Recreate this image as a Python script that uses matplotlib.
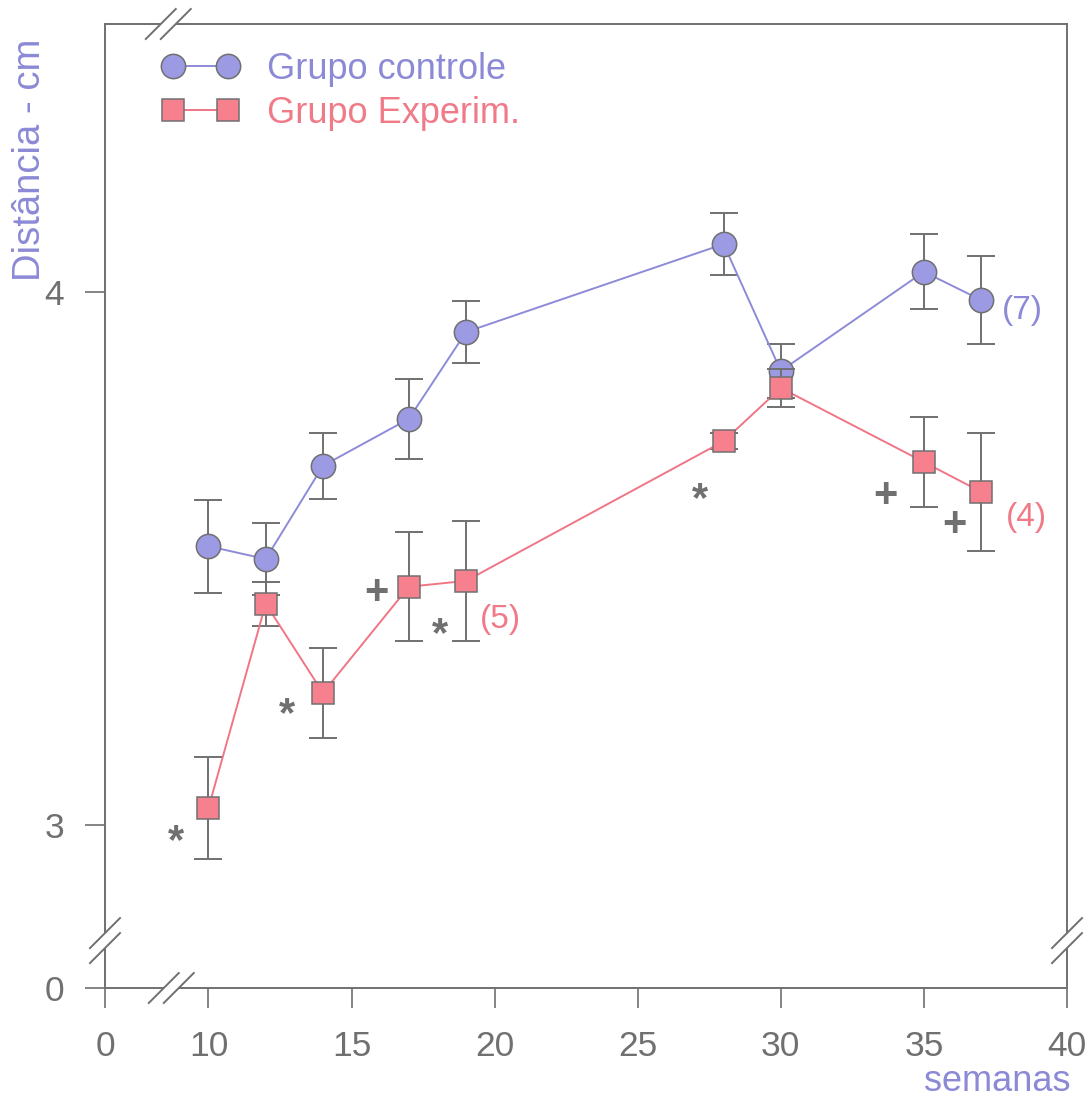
import matplotlib
matplotlib.use("Agg")
import matplotlib.pyplot as plt
from matplotlib.lines import Line2D
from matplotlib.patches import Polygon
from matplotlib.transforms import IdentityTransform

# ---- data -------------------------------------------------------------
weeks = [10, 12, 14, 17, 19, 28, 30, 35, 37]
controle = [3.523, 3.499, 3.674, 3.762, 3.925, 4.090, 3.852, 4.038, 3.985]
controle_err = [0.087, 0.068, 0.062, 0.075, 0.058, 0.058, 0.051, 0.070, 0.083]
experim = [3.032, 3.415, 3.248, 3.447, 3.458, 3.720, 3.820, 3.681, 3.625]
experim_err = [0.096, 0.041, 0.084, 0.102, 0.112, 0.015, 0.035, 0.085, 0.111]

x_ticks = [0, 10, 15, 20, 25, 30, 35, 40]
y_ticks = [0, 3, 4]

# significance marks: (text, week, value)
marks = [("*", 8.85, 2.967), ("*", 12.76, 3.207), ("+", 15.87, 3.435),
         ("*", 18.08, 3.357), ("*", 27.17, 3.610), ("+", 33.67, 3.617),
         ("+", 36.05, 3.562)]
# group sizes
n_labels = [("(7)", 38.45, 3.966, "controle"), ("(5)", 20.2, 3.385, "experim"),
            ("(4)", 38.6, 3.576, "experim")]

# ---- broken axes: where the zero is drawn --------------------------------
X_ZERO_POS = 6.384
Y_ZERO_POS = 2.694
X_BREAK = 8.7
Y_BREAK = 2.783


def xpos(v):
    return X_ZERO_POS if v == 0 else v


def ypos(v):
    return Y_ZERO_POS if v == 0 else v


# ---- style -------------------------------------------------------------
BLUE_FACE = "#9c9ae2"
BLUE_LINE = "#8d8bd8"
BLUE_TEXT = "#8c8ad6"
PINK_FACE = "#f6808e"
PINK_LINE = "#f07585"
PINK_TEXT = "#f07a88"
GRAY = "#707070"

plt.rcParams["font.family"] = ["Liberation Sans", "DejaVu Sans"]

W, H = 1090, 1101
fig = plt.figure(figsize=(W / 100, H / 100), dpi=100)
fig.patch.set_facecolor("white")
ax = fig.add_axes([105 / W, 1 - 988 / H, 962 / W, 964 / H])

# control group
ax.errorbar(weeks, controle, yerr=controle_err, fmt="none", ecolor=GRAY,
            elinewidth=1.4, capsize=10, capthick=1.4, zorder=2)
h_ctrl, = ax.plot(weeks, controle, "-", color=BLUE_LINE, lw=1.4, marker="o",
                  ms=17.5, mfc=BLUE_FACE, mec=GRAY, mew=1.1, zorder=3)
# experimental group
ax.errorbar(weeks, experim, yerr=experim_err, fmt="none", ecolor=GRAY,
            elinewidth=1.4, capsize=10, capthick=1.4, zorder=4)
h_exp, = ax.plot(weeks, experim, "-", color=PINK_LINE, lw=1.4, marker="s",
                 ms=16, mfc=PINK_FACE, mec=GRAY, mew=1.1, zorder=5)

for txt, x, y in marks:
    ax.text(x, y, txt, ha="center", va="center", fontsize=30,
            fontweight="bold", color=GRAY, zorder=6)
for txt, x, y, grp in n_labels:
    ax.text(x, y, txt, ha="center", va="center", fontsize=24,
            color=BLUE_TEXT if grp == "controle" else PINK_TEXT, zorder=6)

ax.set_xlim(X_ZERO_POS, 40)
ax.set_ylim(Y_ZERO_POS, 4.503)
ax.set_xticks([xpos(v) for v in x_ticks])
ax.set_xticklabels([str(v) for v in x_ticks])
ax.set_yticks([ypos(v) for v in y_ticks])
ax.set_yticklabels([str(v) for v in y_ticks])

for sp in ax.spines.values():
    sp.set_color(GRAY)
    sp.set_linewidth(1.4)
ax.tick_params(direction="out", length=14.5, width=1.2, color=GRAY,
               labelcolor=GRAY, labelsize=25.5)
ax.tick_params(axis="x", pad=16)
ax.tick_params(axis="y", pad=15)

leg = ax.legend([h_ctrl, h_exp], ["Grupo controle", "Grupo Experim."],
                numpoints=2, frameon=False, loc="upper left",
                bbox_to_anchor=((162 - 105) / 962, (988 - 52) / 964),
                borderaxespad=0, borderpad=0, handlelength=2.12,
                handletextpad=0.78, labelspacing=0.25, fontsize=26)
leg.get_texts()[0].set_color(BLUE_TEXT)
leg.get_texts()[1].set_color(PINK_TEXT)

fig.text(30 / W, 1 - 160 / H, "Distância - cm", rotation=90, ha="center",
         va="center", fontsize=27.5, color=BLUE_TEXT)
fig.text(997 / W, 1 - 1091 / H, "semanas", ha="center", va="baseline",
         fontsize=26, color=BLUE_TEXT)


# ---- axis break marks ----------------------------------------------------
def break_mark(px, py, vertical):
    """Double slash with a white gap across a spine, in pixel units."""
    d, g = 15, 7.5
    if vertical:
        a0, a1 = (px - d, py + g - d), (px + d, py + g + d)
        b0, b1 = (px - d, py - g - d), (px + d, py - g + d)
    else:
        a0, a1 = (px - g - d, py - d), (px - g + d, py + d)
        b0, b1 = (px + g - d, py - d), (px + g + d, py + d)
    fig.add_artist(Polygon([a0, a1, b1, b0], closed=True, fc="white",
                           ec="none", transform=IdentityTransform(),
                           zorder=10))
    for p0, p1 in ((a0, a1), (b0, b1)):
        fig.add_artist(Line2D([p0[0], p1[0]], [p0[1], p1[1]], color=GRAY,
                              lw=1.4, transform=IdentityTransform(),
                              zorder=11))


fig.canvas.draw()
to_px = ax.transData.transform
for (x, y), vert in (((X_ZERO_POS, Y_BREAK), True), ((40, Y_BREAK), True)):
    break_mark(*to_px((x, y)), vert)
bx, by0 = to_px((X_BREAK, Y_ZERO_POS))
_, by1 = to_px((X_BREAK, 4.503))
break_mark(bx, by0, False)
break_mark(bx - 3, by1, False)

fig.savefig("out.png", dpi=100, facecolor="white")
